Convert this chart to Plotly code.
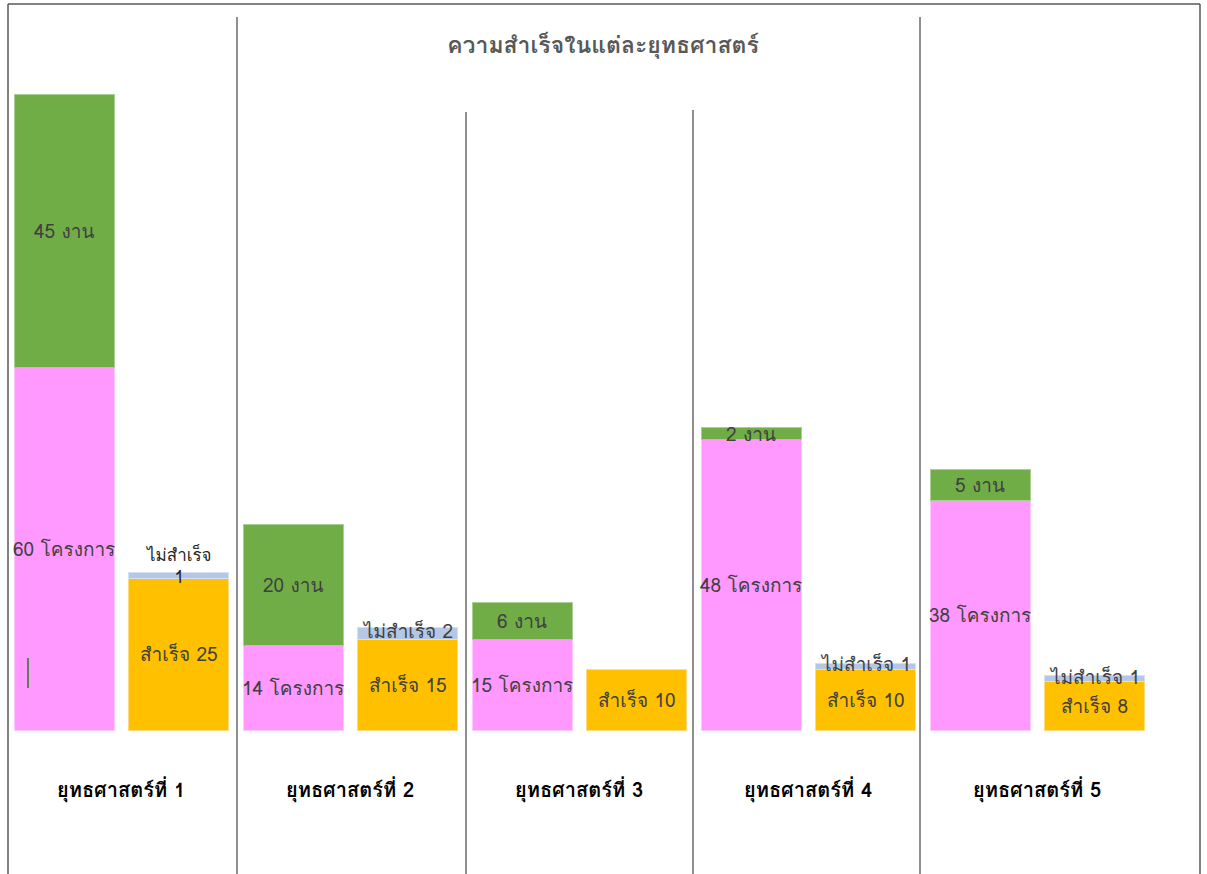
import plotly.graph_objects as go

categories = ["ยุทธศาสตร์ที่ 1", "ยุทธศาสตร์ที่ 2", "ยุทธศาสตร์ที่ 3", "ยุทธศาสตร์ที่ 4", "ยุทธศาสตร์ที่ 5"]
projects = [60, 14, 15, 48, 38]      # โครงการ
tasks = [45, 20, 6, 2, 5]            # งาน
success = [25, 15, 10, 10, 8]        # สำเร็จ
fail = [1, 2, 0, 1, 1]               # ไม่สำเร็จ

W, H = 1207, 874
BASE_PX = 730.0
PX_PER_UNIT = 6.05
PITCH = 114.5
X0_PX = 64.0

FONT = "Tahoma, Loma, Garuda, 'Noto Sans Thai Looped', 'Noto Sans Thai', 'Noto Sans', sans-serif"
LABEL_COLOR = "#404040"

xp = [2 * i for i in range(len(categories))]
xs = [2 * i + 1 for i in range(len(categories))]
bw = 100 / PITCH

fig = go.Figure()
fig.add_trace(go.Bar(x=xp, y=projects, width=bw, name="โครงการ",
                     marker=dict(color="#FF99FF", line=dict(color="#FFC8FF", width=1))))
fig.add_trace(go.Bar(x=xp, y=tasks, width=bw, name="งาน",
                     marker=dict(color="#70AD47", line=dict(color="#A9CF94", width=1))))
fig.add_trace(go.Bar(x=xs, y=success, width=bw, name="สำเร็จ",
                     marker=dict(color="#FFC000", line=dict(color="#FFDB80", width=1))))
fig.add_trace(go.Bar(x=xs, y=fail, width=bw, name="ไม่สำเร็จ",
                     marker=dict(color="#B4C7E7", line=dict(color="#D5E1F3", width=1))))

ann = []
lf = dict(family=FONT, size=19, color=LABEL_COLOR)
for i in range(len(categories)):
    ann.append(dict(x=xp[i], y=projects[i] / 2, text=f"{projects[i]} โครงการ", showarrow=False, font=lf))
    ann.append(dict(x=xp[i], y=projects[i] + tasks[i] / 2, text=f"{tasks[i]} งาน", showarrow=False, font=lf))
    ann.append(dict(x=xs[i], y=success[i] / 2, text=f"สำเร็จ {success[i]}", showarrow=False, font=lf))
    if fail[i] > 0:
        if i == 0:
            ann.append(dict(x=xs[i], y=success[i] + fail[i] / 2, text=f"ไม่สำเร็จ<br>{fail[i]}",
                            showarrow=False, font=dict(family=FONT, size=17, color="#262626"),
                            yshift=10, borderpad=0))
        else:
            ann.append(dict(x=xs[i], y=success[i] + fail[i] / 2, text=f"ไม่สำเร็จ {fail[i]}",
                            showarrow=False, font=lf, yshift=2, borderpad=0))
    ann.append(dict(x=xp[i] + 0.5, y=(BASE_PX - 790) / PX_PER_UNIT, text=f"<b>{categories[i]}</b>",
                    showarrow=False, font=dict(family=FONT, size=20, color="#000000")))

def px(x):
    return x / W

def py(y):
    return 1 - y / H

shapes = [
    dict(type="line", xref="paper", yref="paper", x0=px(8), x1=px(8), y0=py(4), y1=py(874), line=dict(color="#595959", width=1.5)),
    dict(type="line", xref="paper", yref="paper", x0=px(8), x1=px(1200), y0=py(4), y1=py(4), line=dict(color="#595959", width=1.5)),
    dict(type="line", xref="paper", yref="paper", x0=px(1200), x1=px(1200), y0=py(4), y1=py(874), line=dict(color="#595959", width=1.5)),
    dict(type="line", xref="paper", yref="paper", x0=px(237), x1=px(237), y0=py(17), y1=py(874), line=dict(color="#202020", width=1)),
    dict(type="line", xref="paper", yref="paper", x0=px(466), x1=px(466), y0=py(112), y1=py(874), line=dict(color="#202020", width=1)),
    dict(type="line", xref="paper", yref="paper", x0=px(693), x1=px(693), y0=py(110), y1=py(874), line=dict(color="#202020", width=1)),
    dict(type="line", xref="paper", yref="paper", x0=px(920), x1=px(920), y0=py(17), y1=py(874), line=dict(color="#202020", width=1)),
    dict(type="line", xref="paper", yref="paper", x0=px(28), x1=px(28), y0=py(658), y1=py(688), line=dict(color="#1E7B1E", width=1.5)),
]

fig.update_layout(
    width=W, height=H,
    barmode="stack",
    showlegend=False,
    paper_bgcolor="white", plot_bgcolor="white",
    margin=dict(l=0, r=0, t=0, b=0),
    title=dict(text="<b>ความสำเร็จในแต่ละยุทธศาสตร์</b>", x=px(603), xanchor="center",
               y=py(45), yanchor="middle",
               font=dict(family=FONT, size=23, color="#595959")),
    xaxis=dict(range=[-X0_PX / PITCH, (W - X0_PX) / PITCH], visible=False, fixedrange=True),
    yaxis=dict(range=[(BASE_PX - H) / PX_PER_UNIT, BASE_PX / PX_PER_UNIT], visible=False, fixedrange=True),
    annotations=ann,
    shapes=shapes,
    font=dict(family=FONT),
    hovermode=False,
)

fig.write_html("out.html",
               config={"displayModeBar": False, "staticPlot": True},
               post_script="document.body.style.margin='0px';document.body.style.overflow='hidden';")
